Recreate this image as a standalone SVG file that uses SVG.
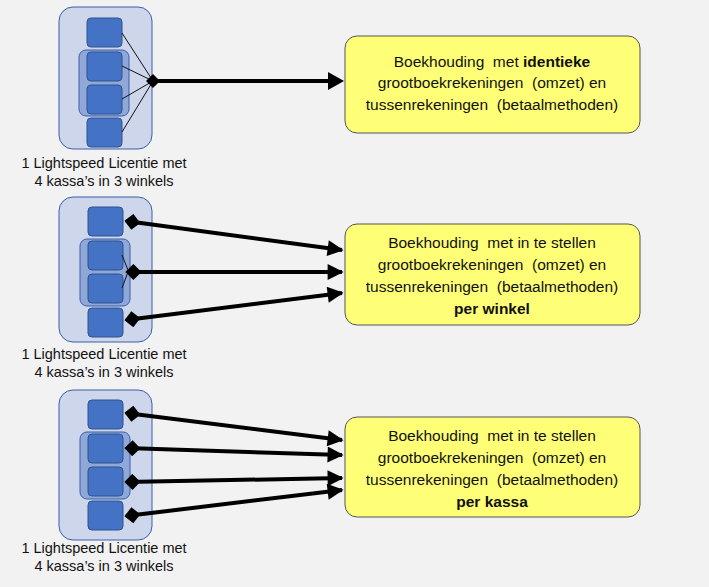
<svg xmlns="http://www.w3.org/2000/svg" width="709" height="587" viewBox="0 0 709 587">
<defs>
<style>
.outer{fill:#cdd6ea;stroke:#3a5fa8;stroke-width:1}
.inner{fill:#8fa8d8;stroke:#3a5fa8;stroke-width:1}
.sq{fill:#4472c4;stroke:#2f528f;stroke-width:1}
.box{fill:#ffff77;stroke:#555;stroke-width:1}
.t{font-family:"Liberation Sans",Arial,sans-serif;font-size:14.5px;fill:#111;text-anchor:middle}
.b{font-family:"Liberation Sans",Arial,sans-serif;font-size:15.5px;fill:#111;text-anchor:middle;white-space:pre}
.thin{stroke:#111;stroke-width:1;fill:none}
.arr{stroke:#000;stroke-width:4;fill:none;marker-start:url(#dia);marker-end:url(#ah)}
</style>
<marker id="ah" viewBox="0 0 10 10" refX="9" refY="5" markerWidth="4.5" markerHeight="4" orient="auto" markerUnits="strokeWidth"><path d="M0,0L10,5L0,10z"/></marker>
<marker id="dia" viewBox="0 0 10 10" refX="1" refY="5" markerWidth="4" markerHeight="4" orient="auto" markerUnits="strokeWidth"><path d="M0,5L5,0L10,5L5,10z"/></marker>
</defs>
<rect width="709" height="587" fill="#f2f2f2"/>
<g id="lic1">
<rect class="outer" x="59" y="7" width="93" height="142" rx="14"/>
<rect class="inner" x="79" y="50" width="50" height="66" rx="7"/>
<rect class="sq" x="87" y="18" width="35" height="29" rx="4"/>
<rect class="sq" x="87" y="52" width="35" height="29" rx="4"/>
<rect class="sq" x="87" y="85" width="35" height="29" rx="4"/>
<rect class="sq" x="87" y="118" width="35" height="29" rx="4"/>
<text class="t" x="104" y="168">1 Lightspeed Licentie met</text>
<text class="t" x="104" y="186">4 kassa’s in 3 winkels</text>
</g>
<g id="lic2">
<rect class="outer" x="59" y="197" width="93" height="145" rx="14"/>
<rect class="inner" x="80" y="239" width="50" height="67" rx="7"/>
<rect class="sq" x="88" y="207" width="35" height="29" rx="4"/>
<rect class="sq" x="88" y="241" width="35" height="29" rx="4"/>
<rect class="sq" x="88" y="274" width="35" height="29" rx="4"/>
<rect class="sq" x="88" y="308" width="35" height="29" rx="4"/>
<text class="t" x="104" y="359">1 Lightspeed Licentie met</text>
<text class="t" x="104" y="377">4 kassa’s in 3 winkels</text>
</g>
<g id="lic3">
<rect class="outer" x="59" y="390" width="93" height="150" rx="14"/>
<rect class="inner" x="80" y="432" width="50" height="67" rx="7"/>
<rect class="sq" x="88" y="400" width="35" height="29" rx="4"/>
<rect class="sq" x="88" y="434" width="35" height="29" rx="4"/>
<rect class="sq" x="88" y="467" width="35" height="29" rx="4"/>
<rect class="sq" x="88" y="501" width="35" height="29" rx="4"/>
<text class="t" x="104" y="553">1 Lightspeed Licentie met</text>
<text class="t" x="104" y="571">4 kassa’s in 3 winkels</text>
</g>
<g id="box1">
<rect class="box" x="345" y="36" width="295" height="97" rx="12"/>
<text class="b" x="492" y="67" xml:space="preserve">Boekhouding  met <tspan font-weight="bold">identieke</tspan></text>
<text class="b" x="492" y="88" xml:space="preserve">grootboekrekeningen  (omzet) en</text>
<text class="b" x="492" y="110" xml:space="preserve">tussenrekeningen  (betaalmethoden)</text>
</g>
<g id="box2">
<rect class="box" x="345" y="224" width="295" height="101" rx="12"/>
<text class="b" x="492" y="248" xml:space="preserve">Boekhouding  met in te stellen</text>
<text class="b" x="492" y="270" xml:space="preserve">grootboekrekeningen  (omzet) en</text>
<text class="b" x="492" y="292" xml:space="preserve">tussenrekeningen  (betaalmethoden)</text>
<text class="b" x="492" y="314" font-weight="bold">per winkel</text>
</g>
<g id="box3">
<rect class="box" x="345" y="417" width="295" height="100" rx="12"/>
<text class="b" x="492" y="441" xml:space="preserve">Boekhouding  met in te stellen</text>
<text class="b" x="492" y="463" xml:space="preserve">grootboekrekeningen  (omzet) en</text>
<text class="b" x="492" y="485" xml:space="preserve">tussenrekeningen  (betaalmethoden)</text>
<text class="b" x="492" y="507" font-weight="bold">per kassa</text>
</g>
<g id="connectors">
<path class="thin" d="M122,33L153,81M122,66L153,81M122,99L153,81M122,132L153,81"/>
<path d="M146,81L153,74L160,81L153,88z"/>
<line x1="153" y1="81" x2="329" y2="81" stroke="#000" stroke-width="4"/>
<path d="M328,72L344,81L328,90z"/>
<path class="thin" d="M122,255L128,270M122,288L128,272"/>
<path class="arr" d="M126,221L342,250"/>
<path class="arr" d="M127,272L342,272"/>
<path class="arr" d="M126,320L342,293"/>
<path class="arr" d="M126,413L342,440"/>
<path class="arr" d="M126,448L342,455"/>
<path class="arr" d="M126,482L342,478"/>
<path class="arr" d="M126,516L342,490"/>
</g>
</svg>
